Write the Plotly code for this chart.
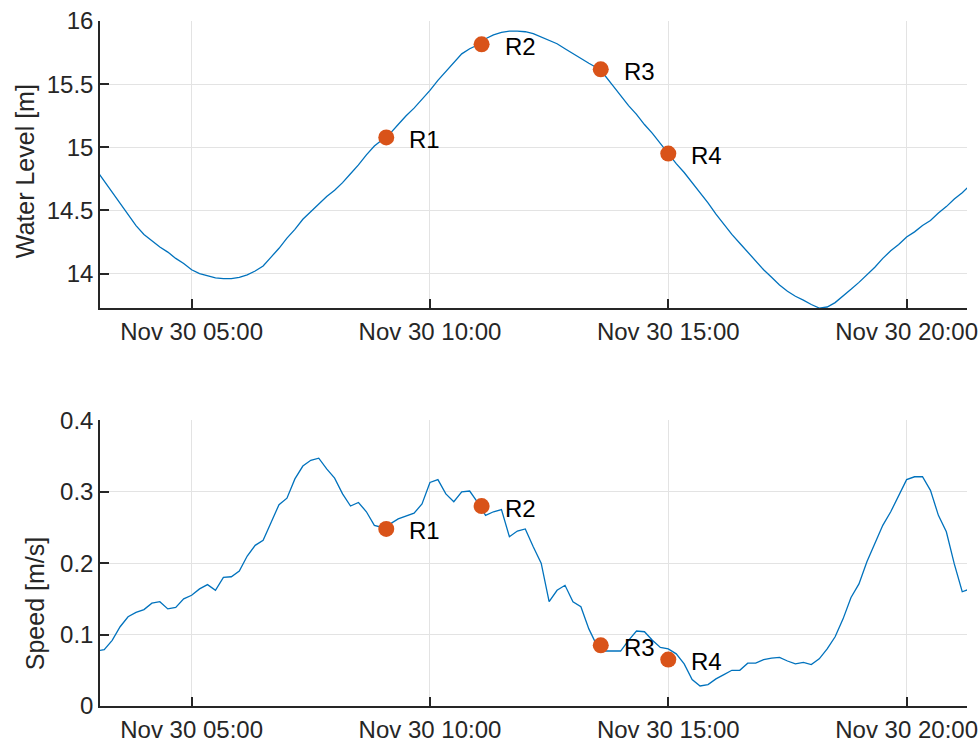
import pandas as pd
import plotly.graph_objects as go

# 10-minute samples, Nov 30 03:00 - 21:20
times = pd.date_range("2022-11-30 03:00", periods=111, freq="10min")

water_level = [
    14.82, 14.73, 14.64, 14.55, 14.46, 14.38, 14.31, 14.26, 14.21, 14.17,
    14.12, 14.08, 14.03, 14.00, 13.98, 13.965, 13.96, 13.96, 13.97, 13.99,
    14.02, 14.06, 14.13, 14.20, 14.28, 14.35, 14.43, 14.49, 14.55, 14.61,
    14.66, 14.72, 14.79, 14.86, 14.94, 15.01, 15.06, 15.11, 15.18, 15.25,
    15.31, 15.38, 15.45, 15.53, 15.60, 15.67, 15.74, 15.78, 15.81, 15.86,
    15.89, 15.91, 15.92, 15.92, 15.915, 15.90, 15.875, 15.85, 15.82, 15.78,
    15.74, 15.70, 15.665, 15.63, 15.57, 15.49, 15.41, 15.33, 15.26, 15.18,
    15.11, 15.03, 14.95, 14.87, 14.80, 14.72, 14.64, 14.56, 14.47, 14.39,
    14.31, 14.24, 14.17, 14.10, 14.03, 13.97, 13.91, 13.86, 13.82, 13.79,
    13.755, 13.727, 13.735, 13.77, 13.82, 13.875, 13.93, 13.99, 14.05, 14.12,
    14.18, 14.23, 14.29, 14.33, 14.38, 14.42, 14.48, 14.53, 14.59, 14.64,
    14.70,
]

speed = [
    0.077, 0.079, 0.092, 0.111, 0.125, 0.131, 0.135, 0.144, 0.146, 0.136,
    0.138, 0.150, 0.155, 0.164, 0.170, 0.162, 0.180, 0.181, 0.189, 0.210,
    0.225, 0.232, 0.257, 0.282, 0.291, 0.318, 0.336, 0.344, 0.347, 0.332,
    0.319, 0.297, 0.280, 0.285, 0.272, 0.253, 0.250, 0.255, 0.262, 0.266,
    0.270, 0.283, 0.313, 0.317, 0.297, 0.286, 0.300, 0.301, 0.285, 0.267,
    0.272, 0.275, 0.237, 0.245, 0.248, 0.223, 0.200, 0.146, 0.162, 0.169,
    0.146, 0.139, 0.108, 0.085, 0.077, 0.077, 0.077, 0.092, 0.105, 0.104,
    0.092, 0.082, 0.080, 0.073, 0.059, 0.037, 0.028, 0.030, 0.038, 0.044,
    0.050, 0.050, 0.060, 0.060, 0.065, 0.067, 0.068, 0.063, 0.059, 0.061,
    0.058, 0.066, 0.080, 0.097, 0.122, 0.152, 0.171, 0.202, 0.227, 0.253,
    0.272, 0.294, 0.317, 0.321, 0.321, 0.302, 0.267, 0.244, 0.199, 0.160,
    0.164,
]

# Sampling runs R1-R4
run_names = ["R1", "R2", "R3", "R4"]
run_times = pd.to_datetime([
    "2022-11-30 09:05", "2022-11-30 11:05", "2022-11-30 13:35", "2022-11-30 15:00",
])
run_level = [15.078, 15.815, 15.617, 14.95]
run_speed = [0.248, 0.280, 0.085, 0.065]

tick_times = pd.to_datetime([
    "2022-11-30 05:00", "2022-11-30 10:00", "2022-11-30 15:00", "2022-11-30 20:00",
])
tick_text = [t.strftime("%b %d %H:%M") for t in tick_times]
x_range = ["2022-11-30 03:04:40", "2022-11-30 21:16:00"]

LINE = "#0072BD"
MARK = "#D95319"
AX = "#262626"
GRID = "#e3e3e3"
FONT = "Liberation Sans, Arial, sans-serif"
TICK_SIZE = 24
LABEL_SIZE = 25

fig = go.Figure()
fig.add_trace(go.Scatter(x=times, y=water_level, mode="lines",
                         line=dict(color=LINE, width=1.3), xaxis="x", yaxis="y"))
fig.add_trace(go.Scatter(x=run_times, y=run_level, mode="markers",
                         marker=dict(color=MARK, size=16), xaxis="x", yaxis="y"))
fig.add_trace(go.Scatter(x=times, y=speed, mode="lines",
                         line=dict(color=LINE, width=1.3), xaxis="x2", yaxis="y2"))
fig.add_trace(go.Scatter(x=run_times, y=run_speed, mode="markers",
                         marker=dict(color=MARK, size=16), xaxis="x2", yaxis="y2"))

annotations = []
for name, t, lv, sp in zip(run_names, run_times, run_level, run_speed):
    for yref, val in (("y", lv), ("y2", sp)):
        annotations.append(dict(
            x=t, y=val, xref="x" if yref == "y" else "x2", yref=yref,
            text=name, showarrow=False, xanchor="left", yanchor="middle",
            xshift=21, yshift=-2, font=dict(family=FONT, size=TICK_SIZE, color="#000000"),
        ))

# Y-axis labels, drawn as rotated text beside each panel
for text, xpos, ypos in (("Water Level [m]", -0.087, 0.78), ("Speed [m/s]", -0.075, 0.15)):
    annotations.append(dict(
        x=xpos, y=ypos, xref="paper", yref="paper", text=text, textangle=-90,
        showarrow=False, xanchor="center", yanchor="middle",
        font=dict(family=FONT, size=LABEL_SIZE, color=AX),
    ))

xaxis_common = dict(
    type="date", range=x_range, tickvals=tick_times, ticktext=tick_text,
    showgrid=True, gridcolor=GRID, gridwidth=1, zeroline=False,
    showline=True, linecolor=AX, linewidth=1.5, ticks="inside", ticklen=9,
    tickwidth=1.5, tickcolor=AX, tickfont=dict(family=FONT, size=TICK_SIZE, color=AX),
    ticklabelstandoff=1, mirror=False, automargin=False,
)
yaxis_common = dict(
    showgrid=True, gridcolor=GRID, gridwidth=1, zeroline=False,
    showline=True, linecolor=AX, linewidth=1.5, ticks="inside", ticklen=9,
    tickwidth=1.5, tickcolor=AX, tickfont=dict(family=FONT, size=TICK_SIZE, color=AX),
    mirror=False, automargin=False,
)

fig.update_layout(
    width=980, height=742,
    margin=dict(l=100, r=13, t=21, b=36, pad=0),
    paper_bgcolor="white", plot_bgcolor="white",
    showlegend=False,
    annotations=annotations,
    xaxis=dict(domain=[0, 1], anchor="y", **xaxis_common),
    yaxis=dict(domain=[0.581, 1], anchor="x", range=[13.727, 16],
               tickvals=[14, 14.5, 15, 15.5, 16],
               ticktext=["14", "14.5", "15", "15.5", "16"],
               **yaxis_common),
    xaxis2=dict(domain=[0, 1], anchor="y2", **xaxis_common),
    yaxis2=dict(domain=[0, 0.417], anchor="x2", range=[0, 0.4],
                tickvals=[0, 0.1, 0.2, 0.3, 0.4],
                ticktext=["0", "0.1", "0.2", "0.3", "0.4"],
                **yaxis_common),
)

fig.write_html("out.html")
